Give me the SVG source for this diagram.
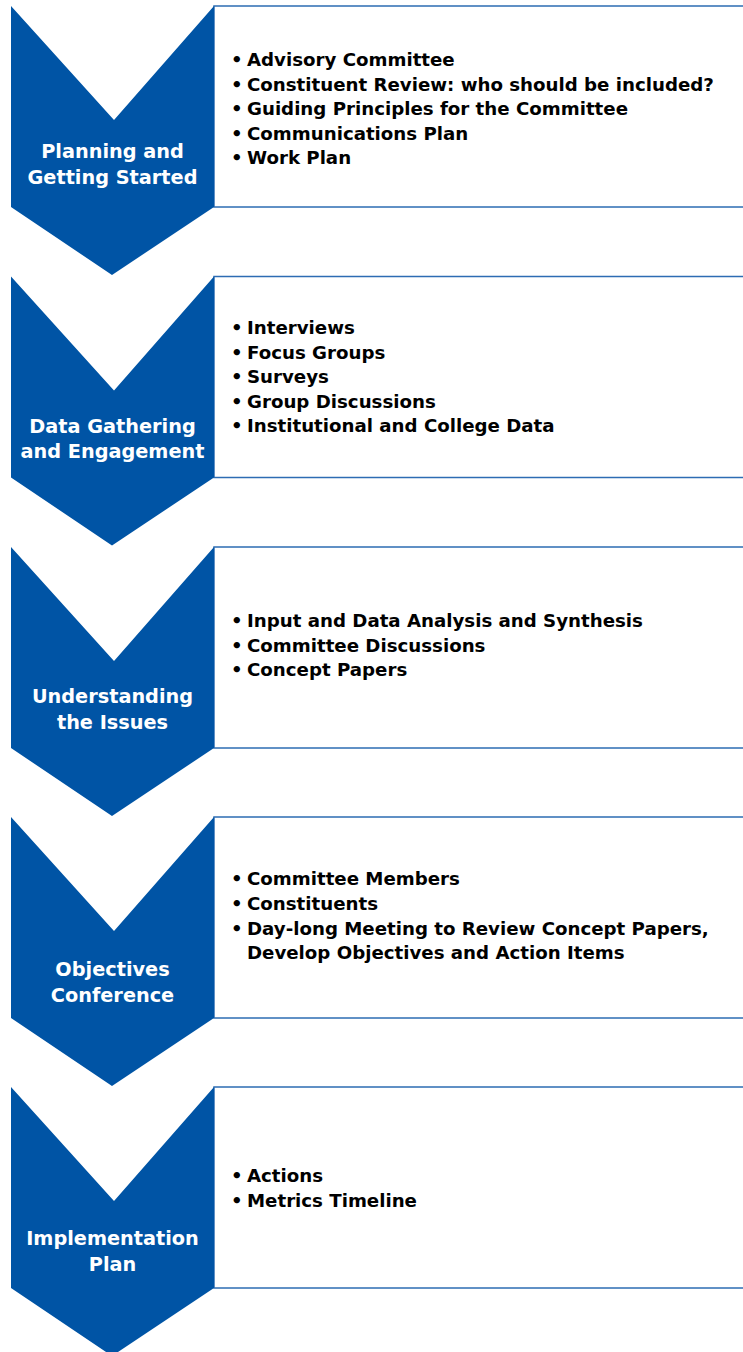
<svg xmlns="http://www.w3.org/2000/svg" width="743" height="1352" viewBox="0 0 743 1352">
<defs>
<style>
.box{fill:#ffffff;stroke:#2d6cb3;stroke-width:1.5}
.chev{fill:#0054a5}
.lbl{font-family:"DejaVu Sans","Liberation Sans",sans-serif;font-weight:bold;font-size:19.3px;fill:#ffffff;text-anchor:middle}
.item{font-family:"DejaVu Sans","Liberation Sans",sans-serif;font-weight:bold;font-size:18.2px;fill:#000000}
</style>
<polygon id="chevShape" class="chev" points="11,0 114,114 214,0 214,201 112,269 11,201"/>
</defs>
<rect width="743" height="1352" fill="#ffffff"/>
<g id="connectors"></g>

<g id="step1">
<rect class="box" x="214" y="6" width="532" height="201"/>
<use href="#chevShape" x="0" y="6"/>
<text class="lbl" x="112.5" y="158">Planning and</text>
<text class="lbl" x="112.5" y="184">Getting Started</text>
<text class="item" x="231" y="66">•</text>
<text class="item" x="231" y="90.5">•</text>
<text class="item" x="231" y="115">•</text>
<text class="item" x="231" y="139.5">•</text>
<text class="item" x="231" y="164">•</text>
<text class="item" x="247" y="66">Advisory Committee</text>
<text class="item" x="247" y="90.5">Constituent Review: who should be included?</text>
<text class="item" x="247" y="115">Guiding Principles for the Committee</text>
<text class="item" x="247" y="139.5">Communications Plan</text>
<text class="item" x="247" y="164">Work Plan</text>
</g>

<g id="step2">
<rect class="box" x="214" y="276.5" width="532" height="201"/>
<use href="#chevShape" x="0" y="276.5"/>
<text class="lbl" x="112.5" y="433">Data Gathering</text>
<text class="lbl" x="112.5" y="458">and Engagement</text>
<text class="item" x="231" y="334">•</text>
<text class="item" x="231" y="358.5">•</text>
<text class="item" x="231" y="383">•</text>
<text class="item" x="231" y="407.5">•</text>
<text class="item" x="231" y="432">•</text>
<text class="item" x="247" y="334">Interviews</text>
<text class="item" x="247" y="358.5">Focus Groups</text>
<text class="item" x="247" y="383">Surveys</text>
<text class="item" x="247" y="407.5">Group Discussions</text>
<text class="item" x="247" y="432">Institutional and College Data</text>
</g>

<g id="step3">
<rect class="box" x="214" y="547" width="532" height="201"/>
<use href="#chevShape" x="0" y="547"/>
<text class="lbl" x="112.5" y="703">Understanding</text>
<text class="lbl" x="112.5" y="729">the Issues</text>
<text class="item" x="231" y="627">•</text>
<text class="item" x="231" y="652">•</text>
<text class="item" x="231" y="676">•</text>
<text class="item" x="247" y="627">Input and Data Analysis and Synthesis</text>
<text class="item" x="247" y="652">Committee Discussions</text>
<text class="item" x="247" y="676">Concept Papers</text>
</g>

<g id="step4">
<rect class="box" x="214" y="817" width="532" height="201"/>
<use href="#chevShape" x="0" y="817"/>
<text class="lbl" x="112.5" y="976">Objectives</text>
<text class="lbl" x="112.5" y="1002">Conference</text>
<text class="item" x="231" y="885">•</text>
<text class="item" x="231" y="910">•</text>
<text class="item" x="231" y="935">•</text>
<text class="item" x="247" y="885">Committee Members</text>
<text class="item" x="247" y="910">Constituents</text>
<text class="item" x="247" y="935">Day-long Meeting to Review Concept Papers,</text>
<text class="item" x="247" y="959">Develop Objectives and Action Items</text>
</g>

<g id="step5">
<rect class="box" x="214" y="1087" width="532" height="201"/>
<use href="#chevShape" x="0" y="1087"/>
<text class="lbl" x="112.5" y="1245">Implementation</text>
<text class="lbl" x="112.5" y="1271">Plan</text>
<text class="item" x="231" y="1182">•</text>
<text class="item" x="231" y="1207">•</text>
<text class="item" x="247" y="1182">Actions</text>
<text class="item" x="247" y="1207">Metrics Timeline</text>
</g>
</svg>
